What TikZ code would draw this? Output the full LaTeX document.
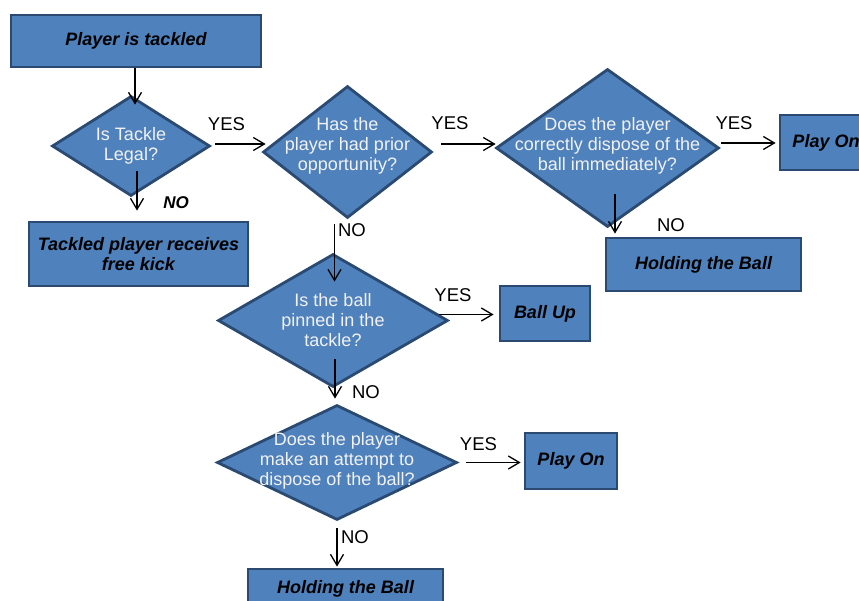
\documentclass[tikz,border=0pt]{standalone}
\usepackage{fontspec}
\setmainfont{Liberation Sans}
\usetikzlibrary{shapes.geometric,arrows.meta}
\definecolor{boxfill}{HTML}{4F81BD}
\definecolor{boxline}{HTML}{2A4A72}
\definecolor{dtxt}{HTML}{F2F2F2}
\tikzset{
  bx/.style={rectangle, draw=boxline, fill=boxfill, line width=2.8pt, inner sep=0pt,
    font=\fontsize{18}{20}\selectfont\bfseries\itshape, text=black, align=center},
  dia/.style={diamond, draw=boxline, fill=boxfill, line width=2.8pt, inner sep=0pt},
  dtext/.style={font=\fontsize{18}{20}\selectfont, text=dtxt, align=center, inner sep=0pt},
  lbl/.style={font=\fontsize{18.5}{20}\selectfont, text=black, inner sep=0pt},
  arr/.style={draw=black, line width=1.3pt, -{Straight Barb[length=11pt,width=13pt,line width=1.3pt]}}
}
\begin{document}
\begin{tikzpicture}[x=1pt,y=-1pt]
\useasboundingbox[fill=white] (0,0) rectangle (859,601);
% boxes
\node[bx, minimum width=250pt, minimum height=52pt] (b1) at (136,41) {Player is tackled};
\node[bx, minimum width=219pt, minimum height=64pt] (b2) at (138.5,254) {Tackled player receives\\free kick};
\node[bx, minimum width=92pt, minimum height=55pt] (po1) at (826,142.5) {Play On};
\node[bx, minimum width=195pt, minimum height=53pt] (h1) at (703.5,264.5) {Holding the Ball};
\node[bx, minimum width=90pt, minimum height=55pt] (bu) at (545,313.5) {Ball Up};
\node[bx, minimum width=92pt, minimum height=56pt] (po2) at (571,461) {Play On};
\node[bx, minimum width=195pt, minimum height=40pt] (h2) at (345.5,589) {Holding the Ball};
% diamonds
\node[dia, minimum width=158pt, minimum height=100pt,
  label={[dtext]center:Is Tackle\\Legal?}] (d1) at (131,146) {};
\node[dia, minimum width=169pt, minimum height=132pt,
  label={[dtext,yshift=6pt]center:Has the\\player had prior\\opportunity?}] (d2) at (347.5,152) {};
\node[dia, minimum width=223pt, minimum height=158pt,
  label={[dtext,yshift=2.5pt]center:Does the player\\correctly dispose of the\\ball immediately?}] (d3) at (607.5,148) {};
\node[dia, minimum width=230pt, minimum height=133pt,
  label={[dtext]center:Is the ball\\pinned in the\\tackle?}] (d4) at (333,320.5) {};
\node[dia, minimum width=240pt, minimum height=115pt,
  label={[dtext,yshift=2pt]center:Does the player\\make an attempt to\\dispose of the ball?}] (d5) at (337,462.5) {};
% connectors
\draw[arr, shorten >=-10pt] ([xshift=-1pt]b1.south) -- ([xshift=-1pt]b1.south |- d1.north);
\draw[arr, shorten <=-26pt, shorten >=10pt] ([xshift=6pt]d1.south) -- ([xshift=-1.5pt]b2.north);
\draw[arr, shorten <=4pt, shorten >=-4pt] ([yshift=2pt]d1.east) -- ([yshift=2pt]d1.east -| d2.west);
\draw[arr, shorten <=8pt, shorten >=-1pt] ([yshift=8pt]d2.east) -- ([yshift=8pt]d2.east -| d3.west);
\draw[arr, shorten <=1pt, shorten >=3pt] ([yshift=5pt]d3.east) -- ([yshift=5pt]d3.east -| po1.west);
\draw[arr, shorten <=-34pt, shorten >=3pt] ([xshift=7.5pt]d3.south) -- ([xshift=7.5pt]d3.south |- h1.north);
\draw[arr, shorten <=5pt, shorten >=-29pt] ([xshift=1.5pt]d4.north |- d2.south) -- ([xshift=1.5pt]d4.north);
\draw[arr, shorten <=-10pt, shorten >=5pt] ([yshift=6pt]d4.east) -- ([yshift=6pt]d4.east -| bu.west);
\draw[arr, shorten <=-29pt, shorten >=5pt] ([xshift=2pt]d4.south) -- ([xshift=2pt]d4.south |- d5.north);
\draw[arr, shorten <=8pt, shorten >=3pt] (d5.east) -- (d5.east -| po2.west);
\draw[arr, shorten <=7pt, shorten >=1pt] (d5.south) -- (d5.south |- h2.north);
% labels
\node[lbl] (y1) at (226.5,124) {YES};
\node[lbl, font=\fontsize{17}{20}\selectfont\bfseries\itshape] (n1) at (176,203) {NO};
\node[lbl] (y2) at (450,123) {YES};
\node[lbl] (y3) at (734,123) {YES};
\node[lbl] (n3) at (671,225) {NO};
\node[lbl] (n2) at (352,230) {NO};
\node[lbl] (y4) at (453,295) {YES};
\node[lbl] (n4) at (366,392) {NO};
\node[lbl] (y5) at (478.5,444) {YES};
\node[lbl] (n5) at (355,537) {NO};
\end{tikzpicture}
\end{document}
